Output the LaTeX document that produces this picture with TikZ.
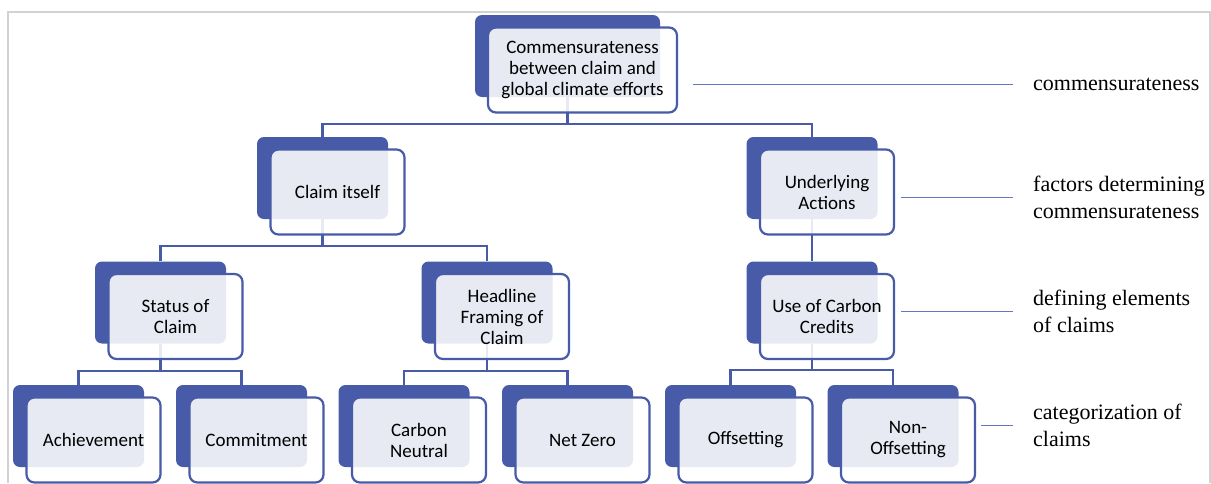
\documentclass[tikz,border=0pt]{standalone}
\usepackage{fontspec}
\setmainfont{Liberation Serif}
\newfontfamily\boxfont{Carlito}
\usetikzlibrary{backgrounds}
\definecolor{smartblue}{RGB}{72,91,168}
\definecolor{lineblue}{RGB}{98,118,198}

\begin{document}
\begin{tikzpicture}[x=1pt,y=-1pt,
  backbox/.style={fill=smartblue,rounded corners=7pt,minimum width=131pt,minimum height=82pt,inner sep=0pt},
  frontbox/.style={draw=smartblue,line width=2.2pt,fill=white,fill opacity=0.87,text opacity=1,rounded corners=8pt,
    minimum width=134pt,minimum height=85pt,inner sep=0pt,align=center,font=\boxfont\fontsize{19}{21}\selectfont},
  tree/.style={draw=smartblue,line width=2.4pt},
  labline/.style={draw=lineblue,line width=1pt},
  level/.style={anchor=west,align=left,inner sep=0pt,font=\fontsize{22}{27}\selectfont}]
\useasboundingbox (0,0) rectangle (1211,483);
\draw[gray!35,line width=1.5pt] (8,483) -- (8,12) -- (1210,12) -- (1210,483);

% back boxes
\node[backbox,minimum width=185pt] (top) at (567.5,56) {};
\node[backbox] (claim) at (322.5,178) {};
\node[backbox] (under) at (812,178) {};
\node[backbox] (status) at (160.5,302.5) {};
\node[backbox] (headline) at (487,302.5) {};
\node[backbox] (credits) at (812,302.5) {};
\node[backbox] (achieve) at (78.5,426) {};
\node[backbox] (commit) at (241.5,426) {};
\node[backbox] (neutral) at (404,426) {};
\node[backbox] (netzero) at (567.5,426) {};
\node[backbox] (offset) at (730.5,426) {};
\node[backbox] (nonoff) at (893,426) {};

% connectors behind the boxes
\begin{scope}[on background layer]
\draw[tree] (top.south) -- ++(0,27) -| (claim.north);
\draw[tree] (top.south) -- ++(0,27) -| (under.north);
\draw[tree] (claim.south) -- ++(0,27) -| (status.north);
\draw[tree] (claim.south) -- ++(0,27) -| (headline.north);
\draw[tree] (under.south) -- (credits.north);
\draw[tree] (status.south) -- ++(0,27) -| (achieve.north);
\draw[tree] (status.south) -- ++(0,27) -| (commit.north);
\draw[tree] (headline.south) -- ++(0,27) -| (neutral.north);
\draw[tree] (headline.south) -- ++(0,27) -| (netzero.north);
\draw[tree] (credits.south) -- ++(0,26) -| (offset.north);
\draw[tree] (credits.south) -- ++(0,26) -| (nonoff.north);
\end{scope}

% front boxes
\node[frontbox,minimum width=189pt] (topf) at ([shift={(15,14)}]top.center) {Commensurateness\\between claim and\\global climate efforts};
\node[frontbox] (claimf) at ([shift={(15,14)}]claim.center) {Claim itself};
\node[frontbox] (underf) at ([shift={(15,14)}]under.center) {Underlying\\Actions};
\node[frontbox] (statusf) at ([shift={(15,14)}]status.center) {Status of\\Claim};
\node[frontbox] (headlinef) at ([shift={(15,14)}]headline.center) {Headline\\Framing of\\Claim};
\node[frontbox] (creditsf) at ([shift={(15,14)}]credits.center) {Use of Carbon\\Credits};
\node[frontbox] (achievef) at ([shift={(15,14)}]achieve.center) {Achievement};
\node[frontbox] (commitf) at ([shift={(15,14)}]commit.center) {Commitment};
\node[frontbox] (neutralf) at ([shift={(15,14)}]neutral.center) {Carbon\\Neutral};
\node[frontbox] (netzerof) at ([shift={(15,14)}]netzero.center) {Net Zero};
\node[frontbox] (offsetf) at ([shift={(15,14)}]offset.center) {Offsetting};
\node[frontbox] (nonofff) at ([shift={(15,14)}]nonoff.center) {Non-\\Offsetting};

% level labels
\node[level] (lab1) at (1033,84) {commensurateness};
\node[level] (lab2) at (1033,197) {factors determining\\commensurateness};
\node[level] (lab3) at (1033,311) {defining elements\\of claims};
\node[level] (lab4) at (1033,425) {categorization of\\claims};
\draw[labline] ([xshift=15pt]topf.east |- lab1.west) -- ([xshift=-20pt]lab1.west);
\draw[labline] ([xshift=6pt]underf.east |- lab2.west) -- ([xshift=-20pt]lab2.west);
\draw[labline] ([xshift=6pt]creditsf.east |- lab3.west) -- ([xshift=-20pt]lab3.west);
\draw[labline] ([xshift=5pt]nonofff.east |- lab4.west) -- ([xshift=-20pt]lab4.west);
\end{tikzpicture}
\end{document}
